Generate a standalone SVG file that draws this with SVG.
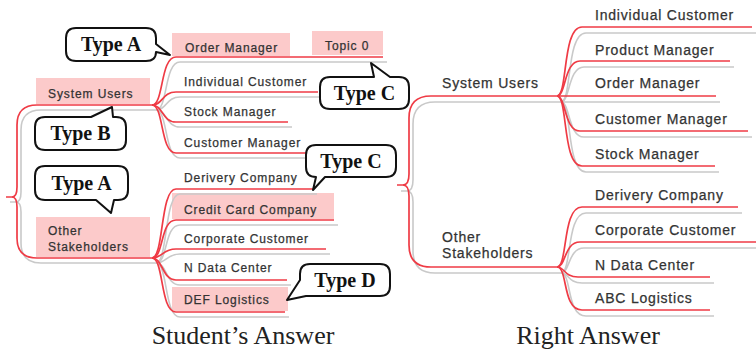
<svg xmlns="http://www.w3.org/2000/svg" xmlns:xlink="http://www.w3.org/1999/xlink" width="756" height="352" viewBox="0 0 756 352">
  <style>
    .box { fill: #fccaca; }
    .lbl { font-family: "Liberation Sans", Arial, sans-serif; fill: #333; stroke: #333; stroke-width: 0.25; }
    .sm { font-size: 12px; letter-spacing: 0.9px; }
    .lg { font-size: 14px; letter-spacing: 0.8px; }
    .red { fill: none; stroke: #ef3b45; stroke-width: 1.7; }
    .gray { fill: none; stroke: #c9c9c9; stroke-width: 1.6; }
    .bubble { fill: #fff; stroke: #111; stroke-width: 2; stroke-linejoin: round; }
    .tag { font-family: "Liberation Serif", "Times New Roman", serif; font-weight: bold; font-size: 20px; fill: #111; text-anchor: middle; }
    .cap { font-family: "Liberation Serif", "Times New Roman", serif; font-size: 26px; fill: #222; text-anchor: middle; }
  </style>
  <defs>
    <!-- branch geometry, drawn twice: grey shadow then red stroke -->
    <g id="edgesLeft">
      <path d="M6,197 H12 Q17,197 17,187 V125 Q17,105 37,105 H152"/>
      <path d="M12,197 Q17,197 17,207 V238 Q17,258 37,258 H152"/>
      <path d="M152,105 C164,105 160,57 176,57 H383"/>
      <path d="M152,105 C163,105 162,92 176,92 H318"/>
      <path d="M152,105 C163,105 162,122 176,122 H288"/>
      <path d="M152,105 C164,105 160,153 176,153 H308"/>
      <path d="M152,258 C164,258 160,189 176,189 H313"/>
      <path d="M152,258 C164,258 160,220 176,220 H334"/>
      <path d="M152,258 C163,258 162,249 176,249 H326"/>
      <path d="M152,258 C163,258 162,280 176,280 H287"/>
      <path d="M152,258 C164,258 160,312 176,312 H285"/>
    </g>
    <g id="edgesRight">
      <path d="M397,185 H403 Q409,185 409,174 V118 Q409,96 431,96 H557"/>
      <path d="M403,185 Q409,185 409,196 V245 Q409,267 431,267 H557"/>
      <path d="M557,96 C568,96 562,27 582,27 H752"/>
      <path d="M557,96 C566,96 564,61 580,61 H730"/>
      <path d="M557,96 H716"/>
      <path d="M557,96 C566,96 564,131 580,131 H748"/>
      <path d="M557,96 C568,96 562,166 582,166 H715"/>
      <path d="M557,267 C568,267 562,207 582,207 H738"/>
      <path d="M557,267 C566,267 564,242 580,242 H756"/>
      <path d="M557,267 C565,267 564,277 578,277 H710"/>
      <path d="M557,267 C568,267 562,310 582,310 H710"/>
    </g>
  </defs>

  <rect width="756" height="352" fill="#fff"/>

  <!-- highlighted topic backgrounds -->
  <g id="highlights">
    <rect class="box" x="36" y="78" width="114" height="26"/>
    <rect class="box" x="36" y="217" width="114" height="40"/>
    <rect class="box" x="172" y="33" width="118" height="23"/>
    <rect class="box" x="312" y="31" width="71" height="24"/>
    <rect class="box" x="172" y="193" width="162" height="26"/>
    <rect class="box" x="172" y="287" width="116" height="24"/>
  </g>

  <g id="connectors">
    <use xlink:href="#edgesLeft" class="gray" transform="translate(4,5)"/>
    <use xlink:href="#edgesRight" class="gray" transform="translate(4,6)"/>
    <use xlink:href="#edgesLeft" class="red"/>
    <use xlink:href="#edgesRight" class="red"/>
  </g>

  <!-- left map -->
  <g id="l-system-users"><text class="lbl sm" x="48" y="98">System Users</text></g>
  <g id="l-other-stakeholders"><text class="lbl sm" x="48" y="235">Other</text><text class="lbl sm" x="48" y="251">Stakeholders</text></g>
  <g id="l-order-manager"><text class="lbl sm" x="185" y="52">Order Manager</text></g>
  <g id="l-topic-0"><text class="lbl sm" x="325" y="50">Topic 0</text></g>
  <g id="l-individual-customer"><text class="lbl sm" x="184" y="86">Individual Customer</text></g>
  <g id="l-stock-manager"><text class="lbl sm" x="184" y="116">Stock Manager</text></g>
  <g id="l-customer-manager"><text class="lbl sm" x="184" y="147">Customer Manager</text></g>
  <g id="l-derivery-company"><text class="lbl sm" x="184" y="182">Derivery Company</text></g>
  <g id="l-credit-card-company"><text class="lbl sm" x="184" y="214">Credit Card Company</text></g>
  <g id="l-corporate-customer"><text class="lbl sm" x="184" y="243">Corporate Customer</text></g>
  <g id="l-n-data-center"><text class="lbl sm" x="184" y="272">N Data Center</text></g>
  <g id="l-def-logistics"><text class="lbl sm" x="184" y="304">DEF Logistics</text></g>

  <!-- right map -->
  <g id="r-system-users"><text class="lbl lg" x="442" y="88">System Users</text></g>
  <g id="r-other-stakeholders"><text class="lbl lg" x="442" y="242">Other</text><text class="lbl lg" x="442" y="258">Stakeholders</text></g>
  <g id="r-individual-customer"><text class="lbl lg" x="595" y="20">Individual Customer</text></g>
  <g id="r-product-manager"><text class="lbl lg" x="595" y="55">Product Manager</text></g>
  <g id="r-order-manager"><text class="lbl lg" x="595" y="88">Order Manager</text></g>
  <g id="r-customer-manager"><text class="lbl lg" x="595" y="124">Customer Manager</text></g>
  <g id="r-stock-manager"><text class="lbl lg" x="595" y="159">Stock Manager</text></g>
  <g id="r-derivery-company"><text class="lbl lg" x="595" y="200">Derivery Company</text></g>
  <g id="r-corporate-customer"><text class="lbl lg" x="595" y="235">Corporate Customer</text></g>
  <g id="r-n-data-center"><text class="lbl lg" x="595" y="270">N Data Center</text></g>
  <g id="r-abc-logistics"><text class="lbl lg" x="595" y="303">ABC Logistics</text></g>

  <!-- speech-bubble tags -->
  <g id="tag-a-top">
    <path class="bubble" d="M76,28 H146 Q156,28 156,38 V44 L170,55 L156,52 Q156,61 146,61 H76 Q66,61 66,51 V38 Q66,28 76,28 Z"/>
    <text class="tag" x="111" y="51">Type A</text>
  </g>
  <g id="tag-b">
    <path class="bubble" d="M45,117 H91 L112,107 L113,117 H116 Q126,117 126,127 V140 Q126,150 116,150 H45 Q35,150 35,140 V127 Q35,117 45,117 Z"/>
    <text class="tag" x="80.5" y="140">Type B</text>
  </g>
  <g id="tag-a-bottom">
    <path class="bubble" d="M45,166 H118 Q128,166 128,176 V190 Q128,200 118,200 H114 L111,213 L96,200 H45 Q35,200 35,190 V176 Q35,166 45,166 Z"/>
    <text class="tag" x="81.5" y="190">Type A</text>
  </g>
  <g id="tag-c-top">
    <path class="bubble" d="M330,77 H374 L371,63 L390,77 H399 Q409,77 409,87 V99 Q409,109 399,109 H330 Q320,109 320,99 V87 Q320,77 330,77 Z"/>
    <text class="tag" x="364.5" y="100">Type C</text>
  </g>
  <g id="tag-c-bottom">
    <path class="bubble" d="M316,145 H386 Q396,145 396,155 V167 Q396,177 386,177 H325 L313,190 L316,177 Q306,177 306,167 V155 Q306,145 316,145 Z"/>
    <text class="tag" x="351" y="168">Type C</text>
  </g>
  <g id="tag-d">
    <path class="bubble" d="M310,264 H380 Q390,264 390,274 V286 Q390,296 380,296 H306 L287,300 L300,280 V274 Q300,264 310,264 Z"/>
    <text class="tag" x="345" y="287">Type D</text>
  </g>

  <g id="captions">
    <text class="cap" x="243" y="344">Student’s Answer</text>
    <text class="cap" x="588" y="344">Right Answer</text>
  </g>
</svg>
